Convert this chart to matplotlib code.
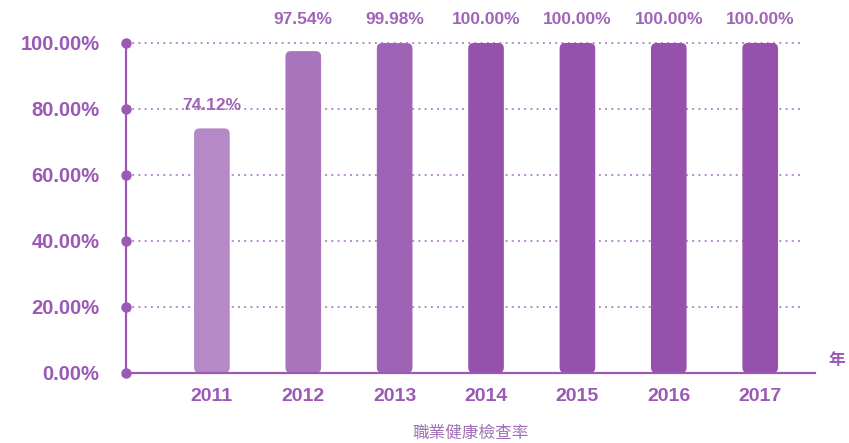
import matplotlib
matplotlib.use("Agg")
import matplotlib.pyplot as plt
from matplotlib.patches import FancyBboxPatch

# data
years = ["2011", "2012", "2013", "2014", "2015", "2016", "2017"]
rates = [74.12, 97.54, 99.98, 100.00, 100.00, 100.00, 100.00]
labels = ["74.12%", "97.54%", "99.98%", "100.00%", "100.00%", "100.00%", "100.00%"]
bar_colors = ["#b589c5", "#a874bb", "#9f63b6", "#9651ad", "#9651ad", "#9651ad", "#9651ad"]
yticks = [0, 20, 40, 60, 80, 100]
ytick_labels = ["0.00%", "20.00%", "40.00%", "60.00%", "80.00%", "100.00%"]

purple = "#9b59b6"
plt.rcParams["font.family"] = ["Liberation Sans", "Noto Sans CJK TC", "DejaVu Sans"]

fig = plt.figure(figsize=(8.49, 4.43), dpi=100)
ax = fig.add_axes([126 / 849, 1 - 373 / 443, (815 - 126) / 849, 330 / 443])

xlim = (-0.94, 6.6)
ax.set_xlim(*xlim)
ax.set_ylim(0, 100)

# rounded bars
bw = 0.39
rx = 0.06
aspect = (100 / 330) / ((xlim[1] - xlim[0]) / 689)
for i, (v, c) in enumerate(zip(rates, bar_colors)):
    p = FancyBboxPatch((i - bw / 2, 0), bw, v,
                       boxstyle="round,pad=0,rounding_size=%f" % rx,
                       mutation_aspect=aspect, fc=c, ec="none", zorder=2)
    ax.add_patch(p)
    ly = v + 7 if v < 90 else 107
    ax.text(i, ly, labels[i], ha="center", va="center", fontsize=12.5,
            fontweight="bold", color="#a064b8", clip_on=False, zorder=5)

# grid + axis dots
for t in yticks[1:]:
    ax.plot([xlim[0], 6.44], [t, t], ls=(0, (1, 2.2)), lw=1.4, color="#b58cc8",
            zorder=1, clip_on=False)
ax.plot([xlim[0]] * len(yticks), yticks, "o", ms=6.5, color=purple,
        clip_on=False, zorder=4)

for s in ["top", "right"]:
    ax.spines[s].set_visible(False)
for s in ["left", "bottom"]:
    ax.spines[s].set_color(purple)
    ax.spines[s].set_linewidth(1.6)

ax.set_xticks(range(len(years)))
ax.set_xticklabels(years, fontsize=14, fontweight="bold", color=purple)
ax.set_yticks(yticks)
ax.set_yticklabels(ytick_labels, fontsize=14.5, fontweight="bold", color=purple)
ax.tick_params(axis="x", length=0, pad=11)
ax.tick_params(axis="y", length=0, pad=19)

ax.text(1.02, 0.04, "年", transform=ax.transAxes, fontsize=12, fontweight="bold",
        color=purple, va="center", ha="left", family=["Noto Sans CJK TC"])
ax.set_xlabel("職業健康檢查率", fontsize=12, color="#a070b5", labelpad=14,
              family=["Noto Sans CJK TC"])

fig.savefig("out.png", dpi=100)
